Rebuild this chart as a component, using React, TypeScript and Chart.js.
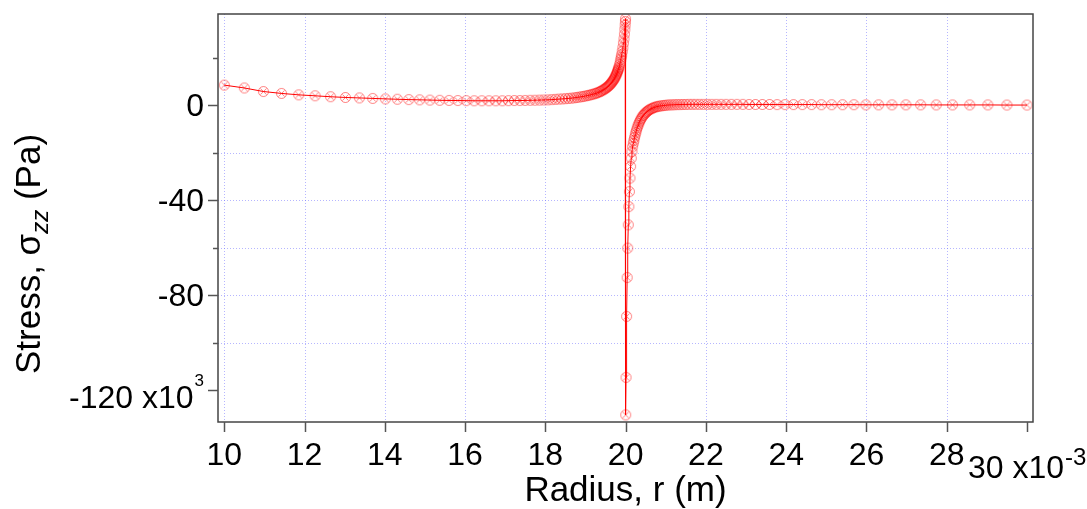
import React, { useEffect, useRef } from 'react';
import { Chart, registerables } from 'chart.js';

Chart.register(...registerables);

// Radius in units of 1e-3 m, stress in units of 1e3 Pa
const radiusLeft = [
  10.0, 10.5, 10.975, 11.426, 11.855, 12.262, 12.649, 13.017, 13.366, 13.698,
  14.013, 14.312, 14.596, 14.867, 15.123, 15.367, 15.599, 15.819, 16.028, 16.226,
  16.415, 16.594, 16.765, 16.926, 17.08, 17.226, 17.365, 17.497, 17.622, 17.741,
  17.854, 17.961, 18.063, 18.16, 18.252, 18.339, 18.422, 18.501, 18.576, 18.647,
  18.715, 18.779, 18.84, 18.898, 18.953, 19.006, 19.055, 19.103, 19.147, 19.19,
  19.231, 19.269, 19.306, 19.34, 19.373, 19.405, 19.434, 19.463, 19.49, 19.515,
  19.539, 19.562, 19.584, 19.605, 19.625, 19.644, 19.661, 19.678, 19.694, 19.71,
  19.724, 19.738, 19.751, 19.764, 19.775, 19.787, 19.797, 19.807, 19.817, 19.826,
  19.835, 19.851, 19.865, 19.879, 19.89, 19.901, 19.915, 19.93, 19.945, 19.958,
  19.97, 19.98, 19.988, 19.994, 19.998,
];
const stressLeft = [
  8.5, 7.3, 5.8, 5.0, 4.4, 4.0, 3.6, 3.3, 3.1, 2.9,
  2.7, 2.55, 2.4, 2.3, 2.2, 2.1, 2.05, 2.0, 1.95, 1.9,
  1.9, 1.9, 1.9, 1.9, 1.95, 2.0, 2.0, 2.05, 2.1, 2.15,
  2.2, 2.25, 2.3, 2.4, 2.5, 2.6, 2.7, 2.8, 2.9, 3.0,
  3.15, 3.3, 3.45, 3.6, 3.75, 3.95, 4.1, 4.3, 4.5, 4.7,
  4.9, 5.1, 5.35, 5.6, 5.85, 6.1, 6.4, 6.7, 7.0, 7.3,
  7.6, 7.95, 8.3, 8.65, 9.0, 9.4, 9.8, 10.2, 10.6, 11.0,
  11.45, 11.9, 12.35, 12.8, 13.25, 13.7, 14.2, 14.7, 15.2, 15.7,
  16.2, 17.2, 18.2, 19.3, 20.3, 21.3, 22.7, 24.3, 26.2, 28.0,
  30.0, 32.0, 33.8, 35.3, 36.5,
];
const radiusRight = [
  20.002, 20.01, 20.024, 20.038, 20.052, 20.066, 20.08, 20.094, 20.108, 20.124,
  20.14, 20.157, 20.174, 20.19, 20.206, 20.222, 20.238, 20.255, 20.272, 20.29,
  20.308, 20.327, 20.347, 20.368, 20.39, 20.413, 20.437, 20.462, 20.488, 20.515,
  20.543, 20.572, 20.602, 20.633, 20.665, 20.698, 20.733, 20.77, 20.81, 20.853,
  20.897, 20.945, 20.994, 21.047, 21.102, 21.16, 21.221, 21.285, 21.353, 21.424,
  21.499, 21.578, 21.661, 21.748, 21.84, 21.937, 22.039, 22.146, 22.259, 22.378,
  22.503, 22.635, 22.774, 22.92, 23.074, 23.235, 23.406, 23.585, 23.774, 23.972,
  24.181, 24.401, 24.633, 24.877, 25.133, 25.404, 25.688, 25.987, 26.302, 26.634,
  26.983, 27.351, 27.738, 28.145, 28.574, 29.025, 29.5, 30.0,
];
const stressRight = [
  -130.5, -114.7, -89.0, -72.6, -60.2, -50.4, -42.7, -36.4, -30.7, -25.8,
  -22.3, -19.5, -17.5, -16.0, -14.8, -13.6, -12.5, -11.4, -10.4, -9.4,
  -8.5, -7.7, -6.9, -6.2, -5.5, -4.9, -4.3, -3.8, -3.3, -2.9,
  -2.5, -2.1, -1.8, -1.5, -1.25, -1.0, -0.8, -0.6, -0.45, -0.3,
  -0.2, -0.1, 0.0, 0.1, 0.15, 0.2, 0.25, 0.3, 0.3, 0.35,
  0.35, 0.4, 0.4, 0.4, 0.4, 0.4, 0.4, 0.4, 0.4, 0.4,
  0.4, 0.4, 0.4, 0.4, 0.35, 0.35, 0.35, 0.35, 0.3, 0.3,
  0.3, 0.3, 0.3, 0.25, 0.25, 0.25, 0.25, 0.2, 0.2, 0.2,
  0.2, 0.2, 0.15, 0.15, 0.15, 0.15, 0.1, 0.1,
];

const xTickValues = [10, 12, 14, 16, 18, 20, 22, 24, 26, 28, 30];
const xTickLabels = ['10', '12', '14', '16', '18', '20', '22', '24', '26', '28', '30 x10'];
const xGridValues = [10, 12, 14, 16, 18, 22, 24, 26, 28];
const yMajorTicks = [0, -40, -80, -120];
const yMajorLabels = ['0', '-40', '-80', '-120 x10'];
const yMinorTicks = [20, -20, -60, -100];
const yGridValues = [-20, -40, -60, -80, -100];
const xTitle = 'Radius, r (m)';
const yTitleMain = 'Stress, σ';
const yTitleSub = 'zz';
const yTitleEnd = ' (Pa)';

const FONT = '"Liberation Sans", Arial, sans-serif';

function makeMarker(): HTMLCanvasElement {
  const c = document.createElement('canvas');
  c.width = 13;
  c.height = 13;
  const g = c.getContext('2d')!;
  g.strokeStyle = 'rgba(255,0,0,0.5)';
  g.lineWidth = 1;
  g.beginPath();
  g.arc(6.5, 6.5, 5, 0, Math.PI * 2);
  g.stroke();
  g.beginPath();
  g.moveTo(3.5, 3.5);
  g.lineTo(9.5, 9.5);
  g.moveTo(9.5, 3.5);
  g.lineTo(3.5, 9.5);
  g.stroke();
  return c;
}

const axesPlugin = {
  id: 'igorAxes',
  beforeDatasetsDraw(chart: any) {
    const { ctx, chartArea: a, scales } = chart;
    const x = scales.x;
    const y = scales.y;
    ctx.save();
    ctx.strokeStyle = 'rgba(110,110,255,0.5)';
    ctx.lineWidth = 1;
    ctx.setLineDash([1, 2]);
    for (const v of xGridValues) {
      const px = Math.round(x.getPixelForValue(v)) + 0.5;
      ctx.beginPath();
      ctx.moveTo(px, a.top);
      ctx.lineTo(px, a.bottom);
      ctx.stroke();
    }
    for (const v of yGridValues) {
      const py = Math.round(y.getPixelForValue(v)) + 0.5;
      ctx.beginPath();
      ctx.moveTo(a.left, py);
      ctx.lineTo(a.right, py);
      ctx.stroke();
    }
    ctx.restore();
  },
  afterDraw(chart: any) {
    const { ctx, chartArea: a, scales } = chart;
    const x = scales.x;
    const y = scales.y;
    ctx.save();
    // frame
    ctx.strokeStyle = '#444';
    ctx.lineWidth = 1.5;
    ctx.strokeRect(a.left, a.top, a.right - a.left, a.bottom - a.top);
    // ticks
    ctx.lineWidth = 1.5;
    ctx.strokeStyle = '#555';
    for (const v of xTickValues) {
      const px = Math.round(x.getPixelForValue(v)) + 0.5;
      ctx.beginPath();
      ctx.moveTo(px, a.bottom);
      ctx.lineTo(px, a.bottom + 10);
      ctx.stroke();
    }
    for (const v of yMajorTicks) {
      const py = Math.round(y.getPixelForValue(v)) + 0.5;
      ctx.beginPath();
      ctx.moveTo(a.left, py);
      ctx.lineTo(a.left - 10, py);
      ctx.stroke();
    }
    for (const v of yMinorTicks) {
      const py = Math.round(y.getPixelForValue(v)) + 0.5;
      ctx.beginPath();
      ctx.moveTo(a.left, py);
      ctx.lineTo(a.left - 5, py);
      ctx.stroke();
    }
    // tick labels
    ctx.fillStyle = '#000';
    ctx.font = `32px ${FONT}`;
    ctx.textBaseline = 'alphabetic';
    xTickValues.forEach((v, i) => {
      const px = x.getPixelForValue(v);
      if (i === xTickValues.length - 1) {
        ctx.textAlign = 'left';
        ctx.font = `32px ${FONT}`;
        const left = px - 59;
        ctx.fillText(xTickLabels[i], left, a.bottom + 56);
        const w = ctx.measureText(xTickLabels[i]).width;
        ctx.font = `24px ${FONT}`;
        ctx.fillText('-3', left + w + 1, a.bottom + 43);
      } else {
        ctx.textAlign = 'center';
        ctx.font = `32px ${FONT}`;
        ctx.fillText(xTickLabels[i], px, a.bottom + 43);
      }
    });
    yMajorTicks.forEach((v, i) => {
      const py = y.getPixelForValue(v);
      ctx.textAlign = 'right';
      if (v === -120) {
        ctx.font = `17px ${FONT}`;
        const sw = ctx.measureText('3').width;
        ctx.fillText('3', 204, py - 4);
        ctx.font = `32px ${FONT}`;
        ctx.fillText(yMajorLabels[i], 204 - sw - 1, py + 18);
      } else {
        ctx.font = `32px ${FONT}`;
        ctx.fillText(yMajorLabels[i], 204, py + 11);
      }
    });
    // x title
    ctx.font = `35px ${FONT}`;
    ctx.textAlign = 'center';
    ctx.fillText(xTitle, (a.left + a.right) / 2, 501);
    // y title (rotated)
    ctx.save();
    ctx.translate(40, 254);
    ctx.rotate(-Math.PI / 2);
    ctx.textAlign = 'left';
    ctx.font = `35px ${FONT}`;
    const w1 = ctx.measureText(yTitleMain).width;
    const w3 = ctx.measureText(yTitleEnd).width;
    ctx.font = `italic 24px ${FONT}`;
    const w2 = ctx.measureText(yTitleSub).width;
    const total = w1 + w2 + w3;
    let sx = -total / 2;
    ctx.font = `35px ${FONT}`;
    ctx.fillText(yTitleMain, sx, 0);
    sx += w1;
    ctx.font = `italic 24px ${FONT}`;
    ctx.fillText(yTitleSub, sx, 8);
    sx += w2;
    ctx.font = `35px ${FONT}`;
    ctx.fillText(yTitleEnd, sx, 0);
    ctx.restore();
    ctx.restore();
  },
};

export default function App() {
  const ref = useRef<HTMLCanvasElement>(null);
  useEffect(() => {
    document.body.style.margin = '0';
    const points = [
      ...radiusLeft.map((r, i) => ({ x: r, y: stressLeft[i] })),
      ...radiusRight.map((r, i) => ({ x: r, y: stressRight[i] })),
    ];
    const chart = new Chart(ref.current!, {
      type: 'line',
      data: {
        datasets: [
          {
            data: points,
            borderColor: '#ff0000',
            borderWidth: 1,
            pointStyle: makeMarker() as any,
            pointRadius: 5,
            tension: 0,
            fill: false,
          },
        ],
      },
      options: {
        animation: false,
        responsive: false,
        devicePixelRatio: 1,
        events: [],
        layout: { padding: { left: 218, top: 14, right: 54, bottom: 87 } },
        scales: {
          x: { type: 'linear', display: false, min: 9.843, max: 30.15 },
          y: { type: 'linear', display: false, min: -133.5, max: 38.48 },
        },
        plugins: { legend: { display: false }, tooltip: { enabled: false } },
      },
      plugins: [axesPlugin],
    });
    return () => chart.destroy();
  }, []);
  return <canvas ref={ref} width={1087} height={509} style={{ display: 'block' }} />;
}
